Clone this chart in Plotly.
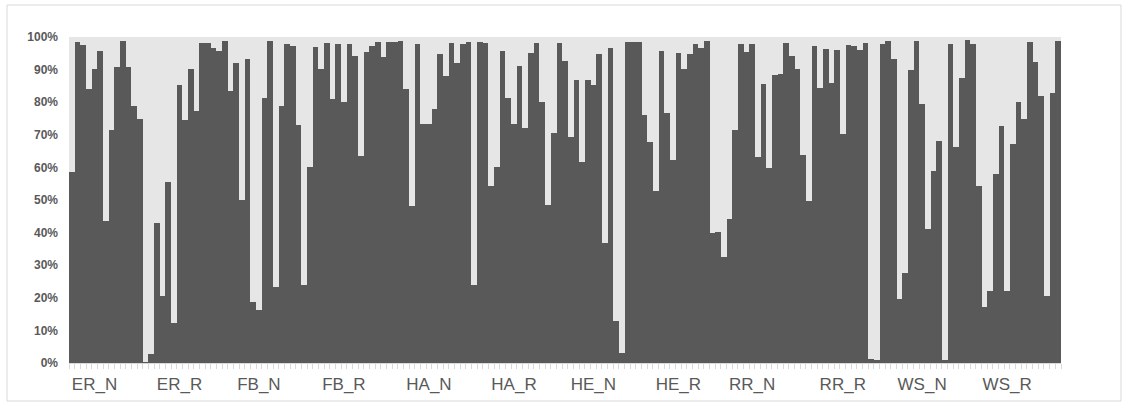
import plotly.graph_objects as go

# Share of the dark series per sample (percent of the 100% stacked bar)
share_dark = [
    58.5, 98.5, 97.6, 84.2, 90.3, 95.7, 43.7, 71.4, 90.9, 98.7,
    90.9, 78.7, 75.0, 0.3, 2.9, 42.9, 20.7, 55.6, 12.3, 85.3,
    74.6, 90.1, 77.3, 98.1, 98.3, 96.7, 95.7, 98.7, 83.3, 92.0,
    50.0, 93.4, 18.7, 16.3, 81.4, 98.7, 23.3, 78.9, 98.0, 97.2,
    73.1, 23.8, 60.0, 96.9, 90.1, 98.1, 80.9, 97.8, 80.1, 97.8,
    94.2, 63.6, 95.5, 97.1, 98.5, 93.9, 98.5, 98.6, 98.9, 84.2,
    48.1, 97.8, 73.3, 73.3, 77.9, 94.7, 88.1, 98.3, 91.9, 98.0,
    98.5, 24.0, 98.5, 98.1, 54.4, 60.0, 95.7, 81.4, 73.3, 91.1,
    72.2, 95.0, 98.1, 80.1, 48.5, 70.5, 98.1, 92.7, 69.4, 86.8,
    61.7, 86.8, 85.2, 94.7, 36.8, 96.7, 13.0, 3.2, 98.6, 98.4,
    98.4, 76.1, 67.7, 52.7, 95.7, 76.8, 62.2, 95.0, 90.3, 94.9,
    98.0, 96.7, 98.7, 39.8, 40.3, 32.4, 44.2, 71.5, 98.0, 95.5,
    98.0, 63.1, 85.7, 59.8, 88.3, 88.6, 98.3, 94.2, 90.3, 63.9,
    49.6, 97.2, 84.5, 96.2, 85.8, 96.0, 70.4, 97.4, 97.2, 96.0,
    98.1, 1.3, 0.8, 98.0, 98.8, 93.4, 19.7, 27.6, 89.9, 98.8,
    79.4, 41.1, 59.0, 68.0, 1.0, 97.8, 66.4, 87.3, 99.0, 97.8,
    54.2, 17.1, 22.2, 58.0, 72.8, 22.2, 67.1, 80.1, 75.0, 98.5,
    92.3, 81.9, 20.5, 82.7, 98.8,
]

# Share of the light series per sample
share_light = [
    41.5, 1.5, 2.4, 15.8, 9.7, 4.3, 56.3, 28.6, 9.1, 1.3,
    9.1, 21.3, 25.0, 99.7, 97.1, 57.1, 79.3, 44.4, 87.7, 14.7,
    25.4, 9.9, 22.7, 1.9, 1.7, 3.3, 4.3, 1.3, 16.7, 8.0,
    50.0, 6.6, 81.3, 83.7, 18.6, 1.3, 76.7, 21.1, 2.0, 2.8,
    26.9, 76.2, 40.0, 3.1, 9.9, 1.9, 19.1, 2.2, 19.9, 2.2,
    5.8, 36.4, 4.5, 2.9, 1.5, 6.1, 1.5, 1.4, 1.1, 15.8,
    51.9, 2.2, 26.7, 26.7, 22.1, 5.3, 11.9, 1.7, 8.1, 2.0,
    1.5, 76.0, 1.5, 1.9, 45.6, 40.0, 4.3, 18.6, 26.7, 8.9,
    27.8, 5.0, 1.9, 19.9, 51.5, 29.5, 1.9, 7.3, 30.6, 13.2,
    38.3, 13.2, 14.8, 5.3, 63.2, 3.3, 87.0, 96.8, 1.4, 1.6,
    1.6, 23.9, 32.3, 47.3, 4.3, 23.2, 37.8, 5.0, 9.7, 5.1,
    2.0, 3.3, 1.3, 60.2, 59.7, 67.6, 55.8, 28.5, 2.0, 4.5,
    2.0, 36.9, 14.3, 40.2, 11.7, 11.4, 1.7, 5.8, 9.7, 36.1,
    50.4, 2.8, 15.5, 3.8, 14.2, 4.0, 29.6, 2.6, 2.8, 4.0,
    1.9, 98.7, 99.2, 2.0, 1.2, 6.6, 80.3, 72.4, 10.1, 1.2,
    20.6, 58.9, 41.0, 32.0, 99.0, 2.2, 33.6, 12.7, 1.0, 2.2,
    45.8, 82.9, 77.8, 42.0, 27.2, 77.8, 32.9, 19.9, 25.0, 1.5,
    7.7, 18.1, 79.5, 17.3, 1.2,
]

# Category axis labels and the sample (category index) each one sits on
group_labels = ["ER_N", "ER_R", "FB_N", "FB_R", "HA_N", "HA_R",
                "HE_N", "HE_R", "RR_N", "RR_R", "WS_N", "WS_R"]
label_index = [4, 19, 33, 48, 63, 78, 92, 107, 120, 136, 150, 165]

y_ticks = [0, 10, 20, 30, 40, 50, 60, 70, 80, 90, 100]

n = len(share_dark)
samples = list(range(n))

fig = go.Figure()
fig.add_trace(go.Bar(x=samples, y=share_dark, marker=dict(color="#595959", line=dict(width=0)),
                     name="dark", showlegend=False))
fig.add_trace(go.Bar(x=samples, y=share_light, marker=dict(color="#e7e6e6", line=dict(width=0)),
                     name="light", showlegend=False))

W, H = 1128, 407
L, R, T, B = 69, 1061, 37, 363

fig.update_layout(
    width=W, height=H,
    margin=dict(l=L, r=W - R, t=T, b=H - B, pad=0),
    barmode="stack", barnorm="percent", bargap=0,
    plot_bgcolor="white", paper_bgcolor="white",
    font=dict(family="Liberation Sans, Arial, sans-serif", color="#595959"),
)

fig.update_xaxes(
    range=[-0.5, n - 0.5],
    tickmode="array", tickvals=label_index, ticktext=group_labels,
    ticks="", tickfont=dict(size=17, color="#595959"),
    ticklabelstandoff=6,
    showline=True, linecolor="#d9d9d9", linewidth=1,
    showgrid=False, zeroline=False,
    minor=dict(tickmode="array", tickvals=[i - 0.5 for i in range(n + 1)],
               ticks="outside", ticklen=5, tickcolor="#d9d9d9", tickwidth=1, showgrid=False),
)
fig.update_yaxes(
    range=[0, 100], tickmode="array", tickvals=y_ticks,
    ticktext=[f"{v}%" for v in y_ticks],
    ticks="", tickfont=dict(size=12, color="#595959", weight="bold"),
    ticklabelstandoff=10,
    showline=False, showgrid=False, zeroline=False,
)

def px_x(p):
    return (p - L) / (R - L)

def px_y(p):
    return (B - p) / (B - T)

fig.add_shape(type="rect", xref="paper", yref="paper",
              x0=px_x(7), x1=px_x(1121), y0=px_y(401), y1=px_y(5),
              line=dict(color="#d9d9d9", width=1), fillcolor="rgba(0,0,0,0)", layer="below")

fig.write_html("out.html")
